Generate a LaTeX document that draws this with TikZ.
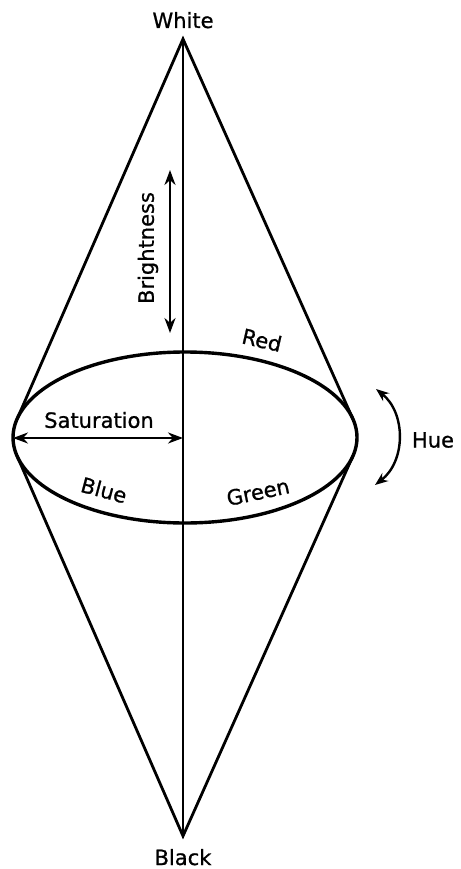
\documentclass[tikz,border=0pt]{standalone}
\usepackage{fontspec}
\setmainfont{DejaVu Sans}
\newfontfamily\lblfont{DejaVu Sans}[FakeBold=0.9]
\usetikzlibrary{arrows.meta}
\begin{document}
\begin{tikzpicture}[x=1pt,y=-1pt,
  lbl/.style={font=\lblfont\fontsize{21}{24}\selectfont, inner sep=0pt},
  cone/.style={line width=2.8pt, line join=miter},
  rim/.style={line width=3.4pt},
  axisline/.style={line width=2.6pt},
  dblarrow/.style={line width=2.4pt, {Stealth[length=15pt,width=11pt]}-{Stealth[length=15pt,width=11pt]}},
  huearrow/.style={line width=2.4pt, {Stealth[length=13pt,width=10pt]}-{Stealth[length=13pt,width=10pt]}}]
\useasboundingbox (0,0) rectangle (460,869);
% key points
\coordinate (top) at (183,39);
\coordinate (bot) at (183,836);
\coordinate (c) at (185,437.5);
\coordinate (tl) at (17,419.2);
\coordinate (tr) at (353,419.2);
\coordinate (bl) at (17,455.8);
\coordinate (br) at (353,455.8);
\coordinate (lm) at (13,438);
\coordinate (ax) at (183,438);
% cone
\draw[cone] (tl) -- (top) -- (tr);
\draw[cone] (bl) -- (bot) -- (br);
\draw[rim] (c) ellipse [x radius=172, y radius=85.5];
\draw[axisline] (top) -- (bot);
% labels
\node[lbl, anchor=base] (white) at (183,28) {White};
\node[lbl, anchor=base] (black) at (183,865) {Black};
% brightness
\coordinate (b1) at (170,170);
\coordinate (b2) at (170,333);
\draw[dblarrow] (b1) -- (b2);
\node[lbl, rotate=90] (bright) at (148,248) {Brightness};
% saturation
\draw[dblarrow] (lm) -- (ax);
\node[lbl] (sat) at (99,420) {Saturation};
% colours
\node[lbl, rotate=-13] (red) at (262,340) {Red};
\node[lbl, rotate=-15] (blue) at (104,490) {Blue};
\node[lbl, rotate=12] (green) at (258,492) {Green};
% hue
\coordinate (h1) at (376,389);
\coordinate (h2) at (375,485);
\draw[huearrow] (h1) .. controls (406,413) and (406,461) .. (h2);
\node[lbl] (hue) at (433,440) {Hue};
\end{tikzpicture}
\end{document}
